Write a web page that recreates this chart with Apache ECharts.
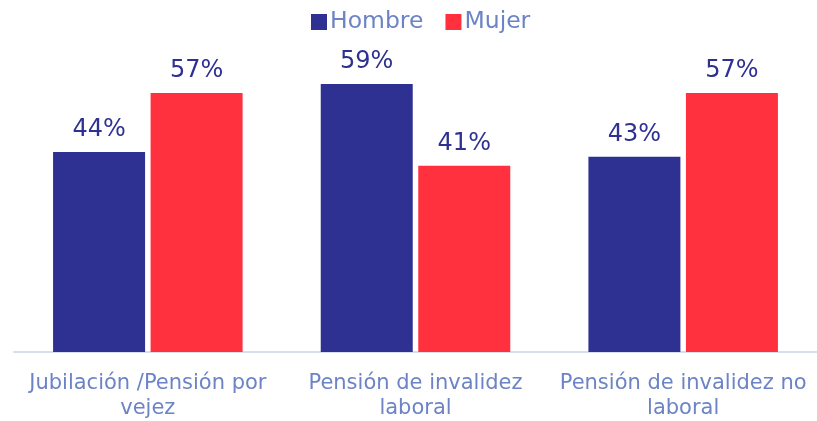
<!DOCTYPE html>
<html>
<head>
<meta charset="utf-8">
<script src="https://cdn.jsdelivr.net/npm/echarts@6/dist/echarts.min.js"></script>
<style>
  html, body { margin: 0; padding: 0; background: #fff; }
  #chart { width: 817px; height: 421px; }
</style>
</head>
<body>
<div id="chart"></div>
<script>
// datos
const categories = ['Jubilación /Pensión por\nvejez', 'Pensión de invalidez\nlaboral', 'Pensión de invalidez no\nlaboral'];
const hombre = [44, 59, 43];
const mujer = [57, 41, 57];

const chart = echarts.init(document.getElementById('chart'));

const labelStyle = {
  show: true,
  position: 'top',
  distance: 10,
  color: '#2E3192',
  fontSize: 24,
  fontFamily: 'DejaVu Sans',
  formatter: (p) => p.value + '%',
};

chart.setOption({
  animation: false,
  textStyle: { fontFamily: 'DejaVu Sans' },
  legend: {
    top: 5,
    left: 306,
    itemWidth: 16,
    itemHeight: 16,
    itemGap: 22,
    icon: 'rect',
    textStyle: { color: '#6C84C6', fontSize: 23.5, padding: [0, 0, 0, -2] },
    data: ['Hombre', 'Mujer'],
  },
  grid: {
    left: 14,
    right: -5,
    top: 34,
    bottom: 66,
    containLabel: false,
  },
  xAxis: {
    type: 'category',
    data: categories,
    axisLine: { lineStyle: { color: '#D9DEEB', width: 2 } },
    axisTick: { show: false },
    axisLabel: {
      color: '#6C84C6',
      fontSize: 21,
      lineHeight: 25,
      margin: 19,
      interval: 0,
    },
  },
  yAxis: {
    type: 'value',
    min: 0,
    max: 70,
    show: false,
  },
  series: [
    {
      name: 'Hombre',
      type: 'bar',
      data: hombre,
      barWidth: 92,
      barGap: '6%',
      itemStyle: { color: '#2E3192' },
      label: labelStyle,
    },
    {
      name: 'Mujer',
      type: 'bar',
      data: mujer,
      barWidth: 92,
      itemStyle: { color: '#FF313F' },
      label: labelStyle,
    },
  ],
});
</script>
</body>
</html>
